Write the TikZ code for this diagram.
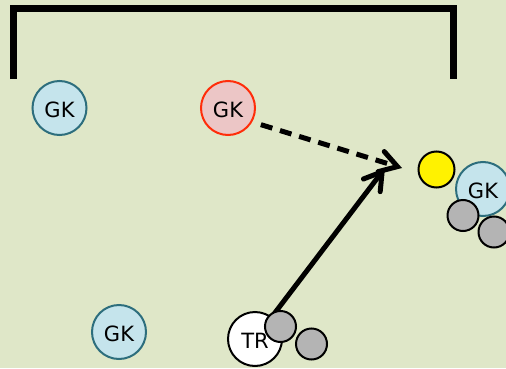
\documentclass[tikz,border=0pt]{standalone}
\usepackage{fontspec}
\setmainfont{DejaVu Sans}
\usetikzlibrary{arrows.meta}
\definecolor{bg}{RGB}{223,231,200}
\definecolor{bluefill}{RGB}{197,228,236}
\definecolor{bluedraw}{RGB}{45,110,125}
\definecolor{redfill}{RGB}{236,198,198}
\definecolor{reddraw}{RGB}{255,45,10}
\definecolor{grayfill}{RGB}{180,180,180}
\newcommand{\playerfont}{\fontsize{21pt}{23pt}\selectfont}
\tikzset{
  player/.style={circle, line width=2pt, minimum size=54pt, inner sep=0pt,
    text height=18pt, text depth=0pt, font=\playerfont},
  gkblue/.style={player, draw=bluedraw, fill=bluefill},
  gkred/.style={player, draw=reddraw, fill=redfill},
  trainer/.style={player, draw=black, fill=white},
  cone/.style={circle, draw=black, line width=2pt, fill=grayfill, minimum size=31pt, inner sep=0pt},
  ballstyle/.style={circle, draw=black, line width=2pt, fill=yellow, minimum size=36pt, inner sep=0pt},
  goalline/.style={line width=7pt, line join=miter},
  tipstyle/.style={-{Straight Barb[length=17pt, width=21pt, line width=5pt, line cap=round]}},
  run/.style={line width=5pt, tipstyle},
  pass/.style={line width=5pt, dash pattern=on 12pt off 8pt, tipstyle}
}
\begin{document}
\begin{tikzpicture}[x=1pt, y=1pt]
\fill[bg] (0,0) rectangle (506,368);
\useasboundingbox (0,0) rectangle (506,368);
% goal
\coordinate (gl) at (13,289);
\coordinate (gtl) at (13,359.5);
\coordinate (gtr) at (453,359.5);
\coordinate (gr) at (453,289);
\draw[goalline] (gl) -- (gtl) -- (gtr) -- (gr);
% players
\node[gkblue] (gk1) at (59.5,260) {GK};
\node[gkred] (gk2) at (228,260) {GK};
\node[gkblue] (gk3) at (119,36) {GK};
\node[ballstyle] (ball) at (436.5,198.5) {};
\node[gkblue] (gk4) at (483,179) {GK};
\node[cone] (c1) at (463,152.5) {};
\node[cone] (c2) at (494,136) {};
\node[trainer] (tr) at (255,29) {TR};
% arrows
\coordinate (runtip) at (385,200);
\coordinate (passtip) at (402,200);
\draw[pass, shorten <=9pt] (gk2.-30) -- (passtip);
\draw[run] (tr) -- (runtip);
\node[cone] (c3) at (280.5,41.5) {};
\node[cone] (c4) at (311.5,24) {};
\end{tikzpicture}
\end{document}
